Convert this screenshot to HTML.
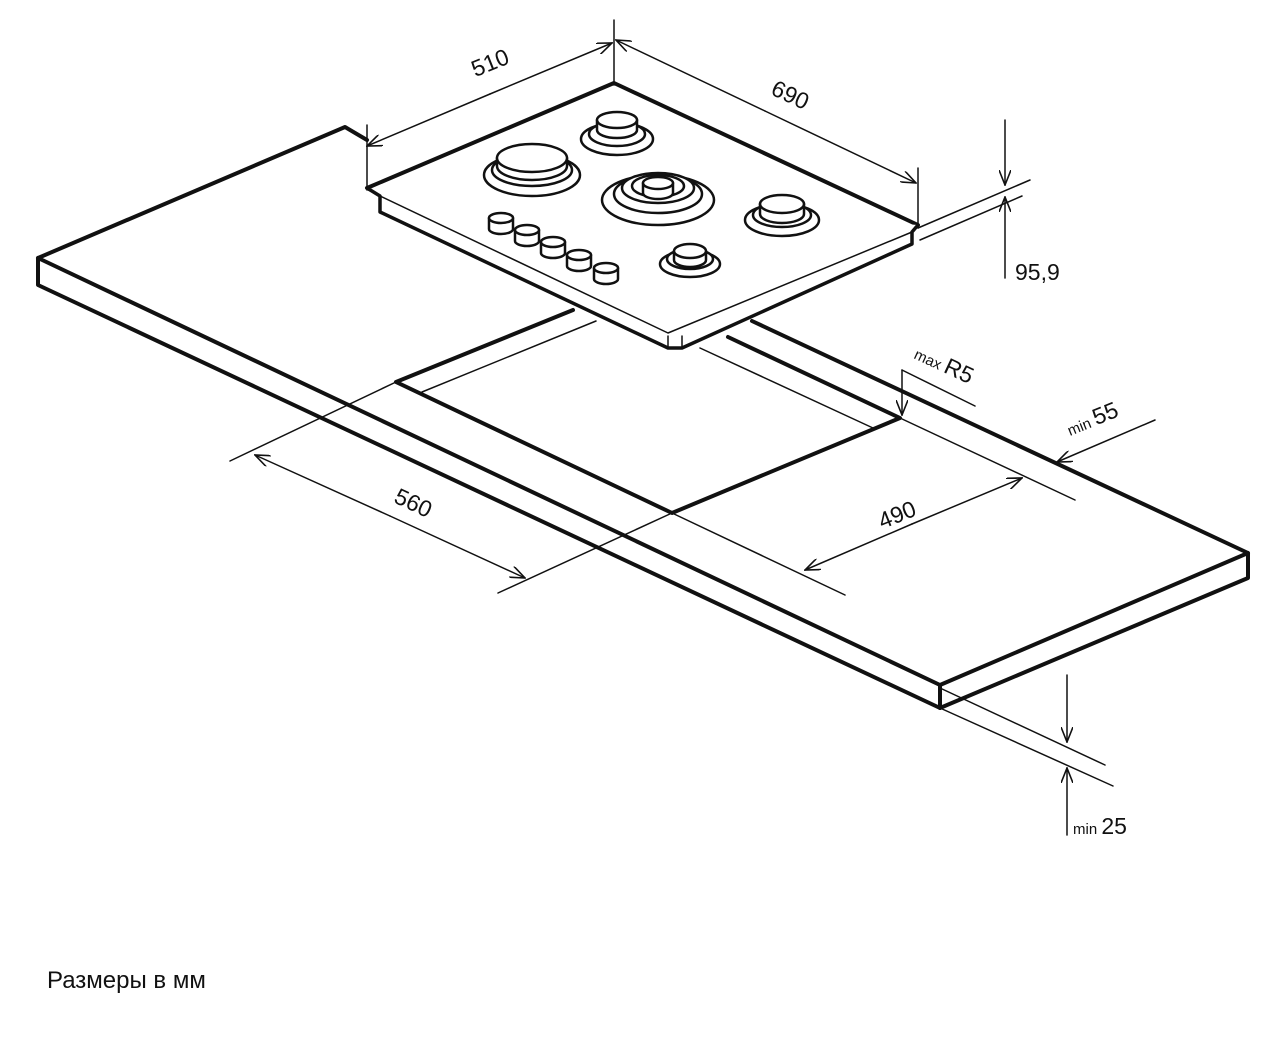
<!DOCTYPE html>
<html><head><meta charset="utf-8"><style>
html,body{margin:0;padding:0;background:#fff;}
svg{display:block;}
text{font-family:"Liberation Sans",sans-serif;fill:#111;}
</style></head><body>
<svg width="1271" height="1037" viewBox="0 0 1271 1037" xmlns="http://www.w3.org/2000/svg">
<defs>
<marker id="a" markerWidth="16" markerHeight="12" refX="15" refY="6" orient="auto" markerUnits="userSpaceOnUse">
<path d="M0,0 L15,6 L0,12" fill="none" stroke="#111" stroke-width="1.6"/>
</marker>
</defs>
<g stroke="#111" fill="none" stroke-linejoin="round" stroke-linecap="round">
<g stroke-width="4">
<path d="M367,140 L345,127 L38,258 L38,285 L940,708 L1248,578 L1248,553 L752,321"/>
<path d="M38,258 L940,685 L1248,553"/>
<path d="M940,685 L940,708"/>
<path d="M573,310 L396,382 L672,513 L900,418 L728,337"/>
</g>
<g stroke-width="1.5">
<path d="M596,321 L422,392"/>
<path d="M700,348 L873,428"/>
</g>
<path d="M614,83 L367,188 L668,336 L918,225 Z" fill="#fff" stroke-width="4"/>
<path d="M367,188 L380,196 L380,212 L668,348 L682,348 L912,244 L912,232 L918,225" fill="#fff" stroke-width="3.5"/>
<path d="M380,196 L668,333 L912,232" stroke-width="1.5"/>
<path d="M668,336 L668,348 M682,336 L682,348" stroke-width="1.5"/>
<g stroke-width="2.5" fill="#fff">
<ellipse cx="532" cy="175" rx="48" ry="21"/>
<ellipse cx="532" cy="170" rx="40" ry="16"/>
<path d="M497,158 L497,166 A35,14 0 0 0 567,166 L567,158"/>
<ellipse cx="532" cy="158" rx="35" ry="14"/>
<ellipse cx="617" cy="139" rx="36" ry="16"/>
<ellipse cx="617" cy="134" rx="28" ry="12"/>
<path d="M597,120 L597,130 A20,8 0 0 0 637,130 L637,120"/>
<ellipse cx="617" cy="120" rx="20" ry="8"/>
<ellipse cx="658" cy="200" rx="56" ry="25"/>
<ellipse cx="658" cy="194" rx="44" ry="19"/>
<ellipse cx="658" cy="188" rx="36" ry="15"/>
<ellipse cx="658" cy="186" rx="26" ry="11"/>
<path d="M643,183 L643,193 A15,6 0 0 0 673,193 L673,183"/>
<ellipse cx="658" cy="183" rx="15" ry="6"/>
<ellipse cx="782" cy="220" rx="37" ry="16"/>
<ellipse cx="782" cy="215" rx="29" ry="12"/>
<path d="M760,204 L760,214 A22,9 0 0 0 804,214 L804,204"/>
<ellipse cx="782" cy="204" rx="22" ry="9"/>
<ellipse cx="690" cy="264" rx="30" ry="13"/>
<ellipse cx="690" cy="259" rx="23" ry="10"/>
<path d="M674,251 L674,260 A16,7 0 0 0 706,260 L706,251"/>
<ellipse cx="690" cy="251" rx="16" ry="7"/>
</g>
<g stroke-width="2.5" fill="#fff">
<path d="M489,218 L489,229 A12,5 0 0 0 513,229 L513,218"/><ellipse cx="501" cy="218" rx="12" ry="5"/>
<path d="M515,230 L515,241 A12,5 0 0 0 539,241 L539,230"/><ellipse cx="527" cy="230" rx="12" ry="5"/>
<path d="M541,242 L541,253 A12,5 0 0 0 565,253 L565,242"/><ellipse cx="553" cy="242" rx="12" ry="5"/>
<path d="M567,255 L567,266 A12,5 0 0 0 591,266 L591,255"/><ellipse cx="579" cy="255" rx="12" ry="5"/>
<path d="M594,268 L594,279 A12,5 0 0 0 618,279 L618,268"/><ellipse cx="606" cy="268" rx="12" ry="5"/>
</g>
<g stroke-width="1.5">
<path d="M367,125 L367,190 M614,20 L614,85 M918,168 L918,228"/>
<path d="M490,94 L367,146" marker-end="url(#a)"/>
<path d="M490,94 L612,43" marker-end="url(#a)"/>
<path d="M765,111 L616,40" marker-end="url(#a)"/>
<path d="M765,111 L916,183" marker-end="url(#a)"/>
<path d="M918,228 L1030,180 M920,240 L1022,196"/>
<path d="M1005,120 L1005,185" marker-end="url(#a)"/>
<path d="M1005,278 L1005,197" marker-end="url(#a)"/>
<path d="M902,370 L902,415" marker-end="url(#a)"/>
<path d="M902,370 L975,406"/>
<path d="M900,418 L1075,500 M672,513 L845,595 M396,382 L230,461 M672,513 L498,593"/>
<path d="M390,516 L255,455" marker-end="url(#a)"/>
<path d="M390,516 L525,578" marker-end="url(#a)"/>
<path d="M912,524 L805,570" marker-end="url(#a)"/>
<path d="M912,524 L1022,478" marker-end="url(#a)"/>
<path d="M1155,420 L1057,462" marker-end="url(#a)"/>
<path d="M940,688 L1105,765 M940,708 L1113,786"/>
<path d="M1067,675 L1067,742" marker-end="url(#a)"/>
<path d="M1067,835 L1067,768" marker-end="url(#a)"/>
</g>
</g>
<g font-size="23">
<text x="493" y="70" transform="rotate(-22 493 70)" text-anchor="middle">510</text>
<text x="787" y="102" transform="rotate(25 787 102)" text-anchor="middle">690</text>
<text x="1015" y="280">95,9</text>
<text x="410" y="510" transform="rotate(25 410 510)" text-anchor="middle">560</text>
<text x="900" y="522" transform="rotate(-22 900 522)" text-anchor="middle">490</text>
<text x="913" y="358" transform="rotate(25 913 358)"><tspan font-size="15">max </tspan>R5</text>
<text x="1070" y="436" transform="rotate(-22 1070 436)"><tspan font-size="15">min </tspan>55</text>
<text x="1073" y="834"><tspan font-size="15">min </tspan>25</text>
<text x="47" y="988" font-size="24">Размеры в мм</text>
</g>
</svg>
</body></html>
